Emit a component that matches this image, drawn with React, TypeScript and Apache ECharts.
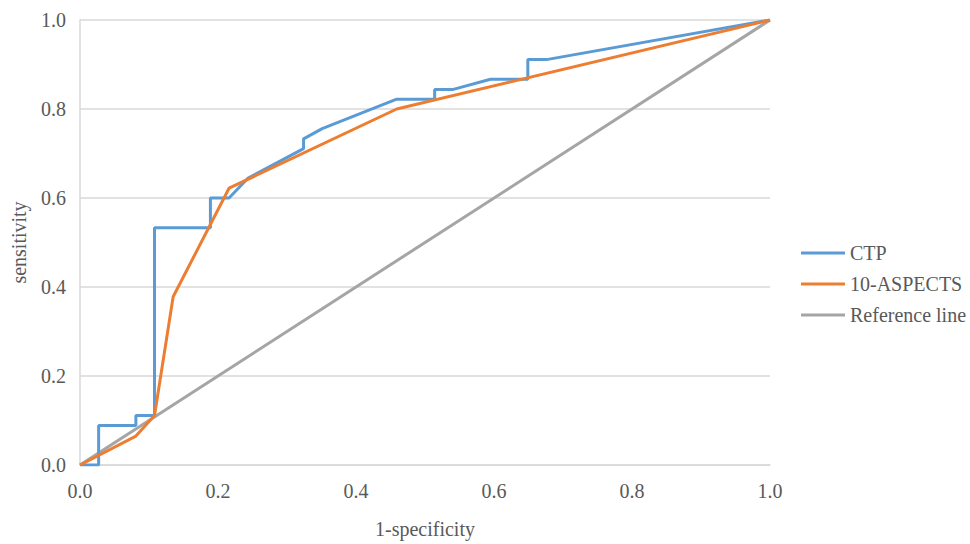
import React, { useEffect, useRef } from "react";
import * as echarts from "echarts";

const ctpX = [0, 0.027, 0.027, 0.081, 0.081, 0.108, 0.108, 0.189, 0.189, 0.216, 0.243, 0.324, 0.324, 0.351, 0.459, 0.514, 0.514, 0.541, 0.595, 0.649, 0.649, 0.676, 1];
const ctpY = [0, 0, 0.089, 0.089, 0.111, 0.111, 0.533, 0.533, 0.6, 0.6, 0.644, 0.711, 0.733, 0.756, 0.822, 0.822, 0.844, 0.844, 0.867, 0.867, 0.911, 0.911, 1];
const aspX = [0, 0.081, 0.108, 0.135, 0.216, 0.459, 1];
const aspY = [0, 0.065, 0.111, 0.378, 0.622, 0.8, 1];
const refX = [0, 1];
const refY = [0, 1];
const seriesNames = ["CTP", "10-ASPECTS", "Reference line"];
const colors = ["#5B9BD5", "#ED7D31", "#A5A5A5"];

const zip = (xs: number[], ys: number[]) => xs.map((x, i) => [x, ys[i]]);

export default function App() {
  const ref = useRef<HTMLDivElement>(null);
  useEffect(() => {
    if (!ref.current) return;
    const chart = echarts.init(ref.current, undefined, { renderer: "svg" });
    const font = "'Liberation Serif', 'Times New Roman', serif";
    chart.setOption({
      animation: false,
      textStyle: { fontFamily: font },
      grid: { left: 80, right: 200, top: 20, bottom: 73, containLabel: false },
      xAxis: {
        type: "value",
        min: 0,
        max: 1,
        interval: 0.2,
        name: "1-specificity",
        nameLocation: "middle",
        nameGap: 54,
        nameTextStyle: { color: "#595959", fontSize: 20, fontFamily: font },
        axisLine: { show: true, lineStyle: { color: "#D9D9D9", width: 1.5 } },
        axisTick: { show: false },
        splitLine: { show: false },
        axisLabel: {
          color: "#595959",
          fontSize: 20,
          fontFamily: font,
          margin: 16,
          formatter: (v: number) => v.toFixed(1),
        },
      },
      yAxis: {
        type: "value",
        min: 0,
        max: 1,
        interval: 0.2,
        name: "sensitivity",
        nameLocation: "middle",
        nameGap: 51,
        nameTextStyle: { color: "#595959", fontSize: 20, fontFamily: font },
        axisLine: { show: true, lineStyle: { color: "#D9D9D9", width: 1.5 } },
        axisTick: { show: false },
        splitLine: { show: true, lineStyle: { color: "#D9D9D9", width: 1.5 } },
        axisLabel: {
          color: "#595959",
          fontSize: 20,
          fontFamily: font,
          margin: 14,
          formatter: (v: number) => v.toFixed(1),
        },
      },
      legend: {
        orient: "vertical",
        left: 796,
        top: 238,
        icon: "rect",
        itemWidth: 44,
        itemHeight: 3,
        itemGap: 11,
        textStyle: { color: "#595959", fontSize: 20, fontFamily: font },
        data: seriesNames,
      },
      series: [
        {
          name: seriesNames[0],
          type: "line",
          data: zip(ctpX, ctpY),
          showSymbol: false,
          symbol: "none",
          lineStyle: { color: colors[0], width: 3 },
          itemStyle: { color: colors[0] },
          z: 3,
        },
        {
          name: seriesNames[1],
          type: "line",
          data: zip(aspX, aspY),
          showSymbol: false,
          symbol: "none",
          lineStyle: { color: colors[1], width: 3 },
          itemStyle: { color: colors[1] },
          z: 4,
        },
        {
          name: seriesNames[2],
          type: "line",
          data: zip(refX, refY),
          showSymbol: false,
          symbol: "none",
          lineStyle: { color: colors[2], width: 3 },
          itemStyle: { color: colors[2] },
          z: 2,
        },
      ],
    });
    return () => chart.dispose();
  }, []);
  return <div ref={ref} style={{ width: 970, height: 544, position: "absolute", left: 0, top: 0 }} />;
}
